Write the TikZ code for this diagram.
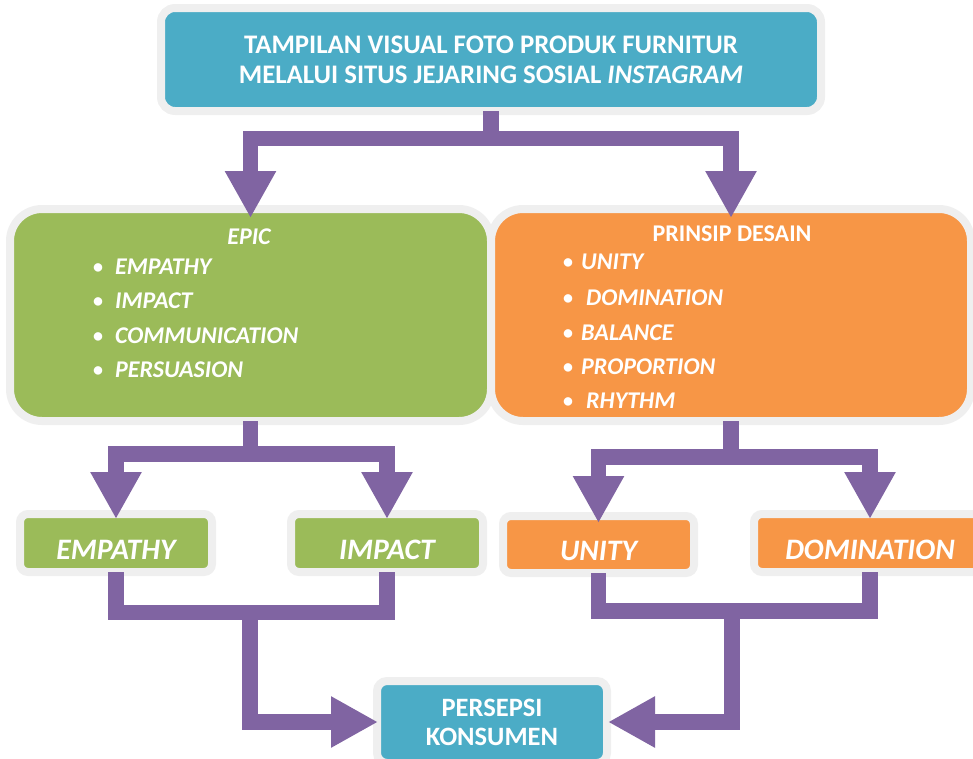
\documentclass[tikz,border=0pt]{standalone}
\usepackage{fontspec}
\setmainfont{Carlito}
\usetikzlibrary{arrows.meta}
\definecolor{cteal}{HTML}{4BACC6}
\definecolor{cgreen}{HTML}{9BBB59}
\definecolor{corange}{HTML}{F79646}
\definecolor{cpurple}{HTML}{8064A2}
\definecolor{cborder}{HTML}{EFEFEF}
\newcommand{\mybul}{\raisebox{1pt}{\fontsize{20}{20}\selectfont•}}
\begin{document}
\begin{tikzpicture}[x=1pt,y=-1pt,
  box/.style={draw=cborder, line width=8pt, inner sep=0pt, text=white},
  bigbox/.style={box, rounded corners=32pt, minimum height=212pt},
  smallbox/.style={box, rounded corners=8pt, minimum height=58pt,
    text height=32pt, text depth=0pt,
    font=\fontsize{29.7}{32}\selectfont\bfseries\itshape},
  listtext/.style={text=white, inner sep=0pt, anchor=base west,
    font=\fontsize{24}{26}\selectfont\bfseries},
  headtext/.style={text=white, inner sep=0pt, anchor=base,
    font=\fontsize{24}{26}\selectfont\bfseries},
  connline/.style={draw=cpurple, line width=15.5pt, line join=miter},
  conn/.style={connline, -{Triangle[width=48pt,length=47pt]}}
]
\useasboundingbox (0,0) rectangle (973,758);
\clip (0,0) rectangle (973,758);

% boxes
\node[box, fill=cteal, rounded corners=14pt, minimum width=660pt, minimum height=103pt,
  align=center, font=\fontsize{26.8}{30}\selectfont\bfseries]
  (top) at (491,59.5) {TAMPILAN VISUAL FOTO PRODUK FURNITUR\\MELALUI SITUS JEJARING SOSIAL \textit{INSTAGRAM}};
\node[bigbox, fill=cgreen, minimum width=481pt] (green) at (250.5,315) {};
\node[bigbox, fill=corange, minimum width=480pt] (orange) at (731,315) {};

\node[smallbox, fill=cgreen, minimum width=192pt] (empathy) at (116,543) {EMPATHY};
\node[smallbox, fill=cgreen, minimum width=192pt] (impact) at (387,543) {IMPACT};
\node[smallbox, fill=corange, minimum width=191pt, minimum height=57pt] (unity) at (598.5,544.5) {UNITY};
\node[smallbox, fill=corange, minimum width=232pt] (domination) at (870,543) {DOMINATION};

\node[box, fill=cteal, rounded corners=10pt, minimum width=230pt, minimum height=82pt,
  align=center, font=\fontsize{26.5}{29}\selectfont\bfseries]
  (persepsi) at (492,722) {PERSEPSI\\KONSUMEN};

% list texts
\node[headtext] (epic) at (249,244) {\itshape EPIC};
\node[listtext] (e1) at (93,274) {\makebox[22pt][l]{\mybul}\textit{EMPATHY}};
\node[listtext] (e2) at (93,308) {\makebox[22pt][l]{\mybul}\textit{IMPACT}};
\node[listtext] (e3) at (93,343) {\makebox[22pt][l]{\mybul}\textit{COMMUNICATION}};
\node[listtext] (e4) at (93,377) {\makebox[22pt][l]{\mybul}\textit{PERSUASION}};

\node[headtext] (prinsip) at (732,241) {PRINSIP DESAIN};
\node[listtext] (p1) at (563,269) {\makebox[18pt][l]{\mybul}\textit{UNITY}};
\node[listtext] (p2) at (563,305) {\makebox[23pt][l]{\mybul}\textit{DOMINATION}};
\node[listtext] (p3) at (563,340) {\makebox[18pt][l]{\mybul}\textit{BALANCE}};
\node[listtext] (p4) at (563,374) {\makebox[18pt][l]{\mybul}\textit{PROPORTION}};
\node[listtext] (p5) at (563,408) {\makebox[23pt][l]{\mybul}\textit{RHYTHM}};

% connectors
\draw[conn] ([yshift=4pt]top.south) -- ++(0,27.5) -| ([yshift=-13pt]green.north);
\draw[conn] ([yshift=4pt]top.south) -- ++(0,27.5) -| ([yshift=-13pt]orange.north);

\draw[conn] ([yshift=4pt]green.south) -- ++(0,33) -| ([yshift=-9pt]empathy.north);
\draw[conn] ([yshift=4pt]green.south) -- ++(0,33) -| ([yshift=-9pt]impact.north);

\draw[conn] ([yshift=4pt]orange.south) -- ++(0,36) -| ([yshift=-11pt]unity.north);
\draw[conn] ([yshift=4pt]orange.south) -- ++(0,36) -| ([yshift=-9pt]domination.north);

\draw[connline] ([yshift=4pt]empathy.south) -- ++(0,40.5) -| ([yshift=4pt]impact.south);
\coordinate (jL) at (250,608.5);
\draw[conn] (jL) |- ([xshift=5pt]persepsi.west);

\draw[connline] ([yshift=4pt]unity.south) -- ++(0,38) -| ([yshift=4pt]domination.south);
\coordinate (jR) at (732,607);
\draw[conn] (jR) |- ([xshift=-3pt]persepsi.east);
\end{tikzpicture}
\end{document}
